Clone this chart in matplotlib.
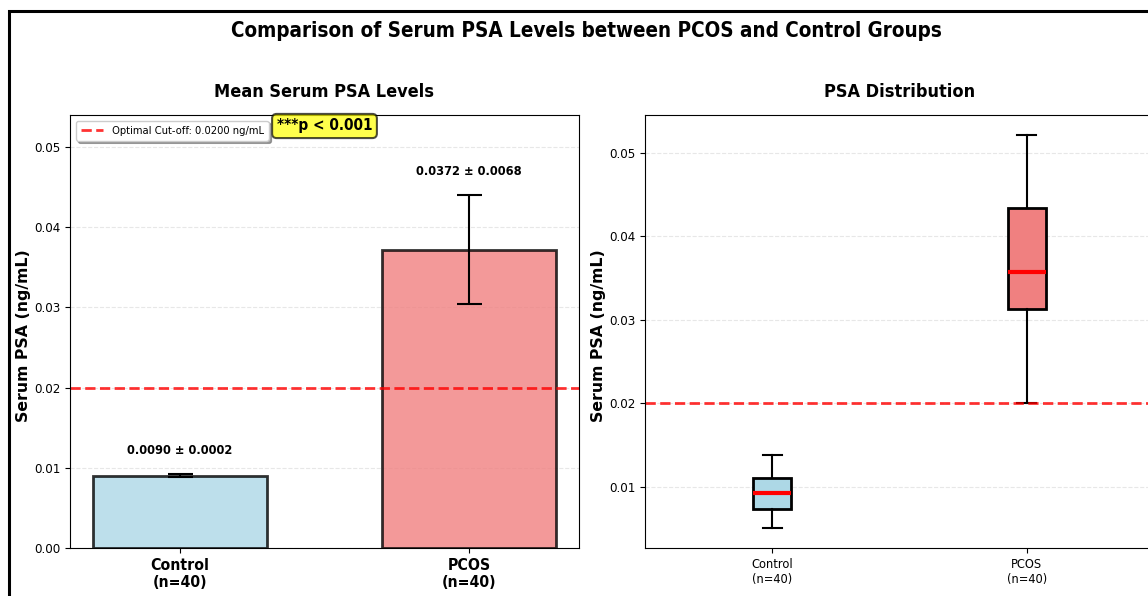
import matplotlib
matplotlib.use("Agg")
import matplotlib.pyplot as plt
from matplotlib.patches import Rectangle

# narrow DejaVu, the reference text is horizontally squeezed
plt.rcParams['font.family'] = 'DejaVu Sans'
plt.rcParams['font.stretch'] = 'condensed'

groups = ['Control', 'PCOS']
n_per_group = [40, 40]
means = [0.0090, 0.0372]
sds = [0.0002, 0.0068]
cutoff = 0.0200
bar_colors = ['lightblue', 'lightcoral']

# box plot summary
whisker_low = [0.0050, 0.0200]
q1 = [0.0073, 0.0313]
medians = [0.0092, 0.0357]
q3 = [0.0110, 0.0434]
whisker_high = [0.0138, 0.0522]

W, H = 1148, 596
fig = plt.figure(figsize=(W / 100, H / 100), dpi=100)

# frame around the figure (cut at right and bottom in the reference)
fig.patches.append(Rectangle((9 / W, -0.1), 1.2, 1.1 - 11 / H, transform=fig.transFigure,
                             fill=False, edgecolor='black', linewidth=2.2, zorder=10))

fig.text(586 / W, 1 - 31 / H, 'Comparison of Serum PSA Levels between PCOS and Control Groups',
         ha='center', va='center', fontsize=14.8, fontweight='bold')

ax1 = fig.add_axes([70 / W, 48 / H, 509 / W, 433 / H])
ax2 = fig.add_axes([645 / W, 48 / H, 509 / W, 433 / H])

labels = [f'{g}\n(n={n})' for g, n in zip(groups, n_per_group)]

# ---- left: mean bars ----
x = range(len(groups))
ax1.bar(x, means, yerr=sds, width=0.6, color=bar_colors, edgecolor='black',
        linewidth=2, alpha=0.8, capsize=9, error_kw={'elinewidth': 1.5, 'capthick': 1.5})
for i, (m, s) in enumerate(zip(means, sds)):
    ax1.text(i, m + s + 0.0022, f'{m:.4f} ± {s:.4f}', ha='center', va='bottom',
             fontsize=9.2, fontweight='bold')
ax1.axhline(cutoff, color='red', linestyle='--', linewidth=2, alpha=0.8,
            label=f'Optimal Cut-off: {cutoff:.4f} ng/mL')
ax1.set_xticks(list(x))
ax1.set_xticklabels(labels, fontsize=11.3, fontweight='bold')
ax1.set_xlim(-0.38, 1.38)
ax1.set_ylim(0, 0.054)
ax1.set_ylabel('Serum PSA (ng/mL)', fontsize=11.3, fontweight='bold', fontstretch='normal')
ax1.yaxis.set_label_coords(-0.077, 0.49)
ax1.set_title('Mean Serum PSA Levels', fontsize=13, fontweight='bold', pad=13)
ax1.grid(axis='y', alpha=0.3, linestyle='--')
ax1.set_axisbelow(True)
ax1.legend(loc='upper left', fontsize=8, shadow=True, borderpad=0.45)
ax1.text(0.5, 0.9746, '***p < 0.001', transform=ax1.transAxes, ha='center', va='center',
         fontsize=11, fontweight='bold',
         bbox=dict(boxstyle='round,pad=0.3', facecolor='yellow', alpha=0.7, edgecolor='black',
                   linewidth=1.5))

# ---- right: box plots ----
stats = []
for i, g in enumerate(groups):
    stats.append({'label': labels[i], 'whislo': whisker_low[i], 'q1': q1[i], 'med': medians[i],
                  'q3': q3[i], 'whishi': whisker_high[i], 'fliers': []})
bp = ax2.bxp(stats, positions=[1, 2], widths=0.15, patch_artist=True,
             boxprops={'linewidth': 2, 'edgecolor': 'black'},
             medianprops={'color': 'red', 'linewidth': 3},
             whiskerprops={'linewidth': 1.5},
             capprops={'linewidth': 1.5})
for patch, c in zip(bp['boxes'], bar_colors):
    patch.set_facecolor(c)
ax2.axhline(cutoff, color='red', linestyle='--', linewidth=2, alpha=0.8)
ax2.set_xlim(0.5, 2.5)
ax2.set_ylim(0.00264, 0.05456)
ax2.tick_params(axis='x', labelsize=9.2)
ax2.set_ylabel('Serum PSA (ng/mL)', fontsize=11.3, fontweight='bold', fontstretch='normal')
ax2.yaxis.set_label_coords(-0.077, 0.49)
ax2.set_title('PSA Distribution', fontsize=13, fontweight='bold', pad=13)
ax2.grid(axis='y', alpha=0.3, linestyle='--')
ax2.set_axisbelow(True)

for ax in (ax1, ax2):
    ax.tick_params(axis='y', labelsize=9.5)

fig.savefig('out.png', dpi=100)
